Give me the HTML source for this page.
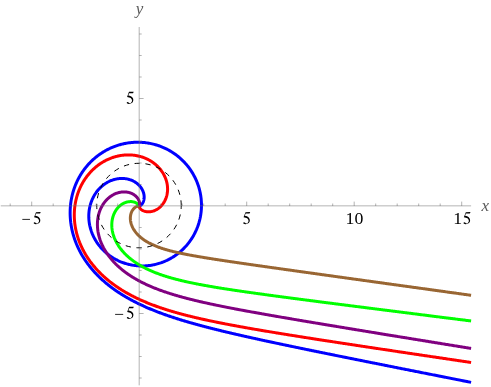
<!DOCTYPE html>
<html><head><meta charset="utf-8"><title>plot</title>
<style>
html,body{margin:0;padding:0;background:#fff;}
body{width:491px;height:387px;overflow:hidden;font-family:"Liberation Serif",serif;}
svg{display:block;}
.tl path{fill:#000;stroke:none;}
.tl{font-family:"Liberation Serif",serif;font-size:17.7px;fill:#000;}
.al{font-family:"Liberation Serif",serif;font-size:17px;font-style:italic;fill:#5a5a5a;}
.cv path{fill:none;stroke-width:3.0;stroke-linejoin:round;stroke-linecap:butt;}
</style></head><body>
<svg width="491" height="387" viewBox="0 0 491 387">
<rect width="491" height="387" fill="#fff"/>
<g class="tl" opacity="0.999">
<g transform="translate(21.4,225.3) scale(0.93,1)"><text x="0" y="0">−</text></g><path d="M7.2,0 L6.55,1.45 L2.65,1.45 L1.75,3.75 C3.6,4.0 5.4,4.9 6.3,6.3 C6.9,7.3 7.0,8.7 6.4,9.9 C5.7,11.3 4.0,12.1 2.3,12.1 C1.2,12.1 0.2,11.7 0.2,11.0 C0.2,10.5 0.6,10.2 1.1,10.2 C1.9,10.2 2.3,11.35 3.4,11.35 C4.6,11.35 5.55,10.1 5.55,8.7 C5.55,6.7 3.6,5.5 0.55,5.2 L2.5,0.05 Z" transform="translate(33.5,212.1)"/>
<path d="M7.2,0 L6.55,1.45 L2.65,1.45 L1.75,3.75 C3.6,4.0 5.4,4.9 6.3,6.3 C6.9,7.3 7.0,8.7 6.4,9.9 C5.7,11.3 4.0,12.1 2.3,12.1 C1.2,12.1 0.2,11.7 0.2,11.0 C0.2,10.5 0.6,10.2 1.1,10.2 C1.9,10.2 2.3,11.35 3.4,11.35 C4.6,11.35 5.55,10.1 5.55,8.7 C5.55,6.7 3.6,5.5 0.55,5.2 L2.5,0.05 Z" transform="translate(243.0,212.1)"/>
<g transform="translate(354.5,224.0) scale(1.005,1)"><text x="0" y="0" text-anchor="middle">10</text></g>
<g transform="translate(453.2,224.0) scale(1.005,1)"><text x="0" y="0">1</text></g><path d="M7.2,0 L6.55,1.45 L2.65,1.45 L1.75,3.75 C3.6,4.0 5.4,4.9 6.3,6.3 C6.9,7.3 7.0,8.7 6.4,9.9 C5.7,11.3 4.0,12.1 2.3,12.1 C1.2,12.1 0.2,11.7 0.2,11.0 C0.2,10.5 0.6,10.2 1.1,10.2 C1.9,10.2 2.3,11.35 3.4,11.35 C4.6,11.35 5.55,10.1 5.55,8.7 C5.55,6.7 3.6,5.5 0.55,5.2 L2.5,0.05 Z" transform="translate(463.3,212.1)"/>
<path d="M7.2,0 L6.55,1.45 L2.65,1.45 L1.75,3.75 C3.6,4.0 5.4,4.9 6.3,6.3 C6.9,7.3 7.0,8.7 6.4,9.9 C5.7,11.3 4.0,12.1 2.3,12.1 C1.2,12.1 0.2,11.7 0.2,11.0 C0.2,10.5 0.6,10.2 1.1,10.2 C1.9,10.2 2.3,11.35 3.4,11.35 C4.6,11.35 5.55,10.1 5.55,8.7 C5.55,6.7 3.6,5.5 0.55,5.2 L2.5,0.05 Z" transform="translate(126.5,91.8)"/>
<g transform="translate(114.3,319.5) scale(0.98,1)"><text x="0" y="0">−</text></g><path d="M7.2,0 L6.55,1.45 L2.65,1.45 L1.75,3.75 C3.6,4.0 5.4,4.9 6.3,6.3 C6.9,7.3 7.0,8.7 6.4,9.9 C5.7,11.3 4.0,12.1 2.3,12.1 C1.2,12.1 0.2,11.7 0.2,11.0 C0.2,10.5 0.6,10.2 1.1,10.2 C1.9,10.2 2.3,11.35 3.4,11.35 C4.6,11.35 5.55,10.1 5.55,8.7 C5.55,6.7 3.6,5.5 0.55,5.2 L2.5,0.05 Z" transform="translate(126.6,306.8)"/>
</g>
<g class="al" opacity="0.999">
<text x="481.4" y="210.5">x</text>
<text x="135.8" y="14.2">y</text>
</g>

<g class="cv">
<path d="M471.10,382.35 L469.94,382.12 L469.25,381.99 L468.57,381.85 L467.89,381.72 L467.21,381.58 L466.54,381.45 L465.86,381.32 L465.19,381.18 L464.52,381.05 L463.86,380.92 L463.19,380.79 L462.53,380.66 L461.87,380.53 L461.21,380.40 L460.56,380.27 L459.90,380.14 L459.25,380.01 L458.60,379.88 L457.96,379.76 L457.31,379.63 L456.67,379.50 L456.03,379.37 L455.39,379.25 L454.75,379.12 L454.12,379.00 L453.49,378.87 L452.86,378.75 L452.23,378.62 L451.60,378.50 L450.98,378.38 L450.35,378.25 L449.73,378.13 L449.12,378.01 L448.50,377.89 L447.89,377.77 L447.27,377.64 L446.66,377.52 L446.06,377.40 L445.45,377.28 L444.84,377.16 L444.24,377.05 L443.64,376.93 L443.04,376.81 L442.45,376.69 L441.85,376.57 L441.26,376.46 L440.67,376.34 L440.08,376.22 L438.90,375.99 L437.74,375.76 L436.58,375.53 L435.43,375.30 L434.28,375.07 L433.14,374.85 L432.01,374.63 L430.89,374.40 L429.77,374.18 L428.66,373.96 L427.56,373.74 L426.46,373.53 L425.37,373.31 L424.29,373.10 L423.21,372.88 L422.14,372.67 L421.07,372.46 L420.01,372.25 L418.96,372.04 L417.91,371.83 L416.87,371.63 L415.84,371.42 L414.81,371.22 L413.79,371.01 L412.77,370.81 L411.76,370.61 L410.76,370.41 L409.76,370.21 L408.76,370.02 L407.77,369.82 L406.79,369.63 L405.81,369.43 L404.84,369.24 L403.87,369.05 L402.91,368.86 L401.96,368.67 L401.01,368.48 L400.06,368.29 L399.12,368.10 L398.19,367.92 L397.26,367.73 L396.33,367.55 L395.41,367.36 L394.49,367.18 L393.58,367.00 L392.68,366.82 L391.78,366.64 L390.88,366.46 L389.99,366.29 L389.10,366.11 L388.22,365.93 L387.34,365.76 L386.47,365.58 L385.60,365.41 L384.74,365.24 L383.88,365.07 L383.03,364.90 L382.18,364.73 L381.33,364.56 L380.49,364.39 L379.65,364.22 L378.82,364.06 L377.99,363.89 L377.16,363.73 L376.34,363.56 L375.52,363.40 L374.71,363.24 L373.90,363.08 L373.10,362.92 L372.30,362.76 L371.50,362.60 L370.71,362.44 L369.92,362.28 L369.13,362.12 L368.35,361.97 L367.57,361.81 L366.80,361.66 L366.03,361.50 L365.26,361.35 L364.50,361.20 L363.74,361.04 L362.98,360.89 L362.23,360.74 L361.48,360.59 L360.74,360.44 L360.00,360.29 L359.26,360.15 L358.52,360.00 L357.79,359.85 L357.06,359.71 L356.34,359.56 L355.62,359.42 L354.90,359.27 L354.18,359.13 L353.47,358.99 L352.76,358.84 L352.06,358.70 L351.36,358.56 L350.66,358.42 L349.96,358.28 L349.27,358.14 L348.58,358.00 L347.89,357.86 L347.21,357.73 L346.53,357.59 L345.85,357.45 L345.18,357.32 L344.51,357.18 L343.84,357.05 L343.17,356.91 L342.51,356.78 L341.85,356.65 L341.19,356.51 L340.54,356.38 L339.89,356.25 L339.24,356.12 L338.60,355.99 L337.95,355.86 L337.31,355.73 L336.67,355.60 L336.04,355.47 L335.41,355.35 L334.78,355.22 L334.15,355.09 L333.53,354.96 L332.90,354.84 L332.28,354.71 L331.67,354.59 L331.05,354.46 L330.44,354.34 L329.83,354.22 L329.23,354.09 L328.62,353.97 L328.02,353.85 L327.42,353.73 L326.82,353.61 L326.23,353.48 L325.64,353.36 L325.05,353.24 L324.17,353.07 L323.29,352.89 L322.42,352.71 L321.56,352.53 L320.70,352.36 L319.84,352.18 L318.99,352.01 L318.15,351.84 L317.31,351.67 L316.47,351.50 L315.64,351.33 L314.82,351.16 L314.00,350.99 L313.18,350.82 L312.37,350.66 L311.56,350.49 L310.76,350.33 L309.96,350.16 L309.17,350.00 L308.38,349.84 L307.59,349.68 L306.81,349.52 L306.03,349.36 L305.26,349.20 L304.49,349.04 L303.73,348.88 L302.97,348.72 L302.21,348.57 L301.46,348.41 L300.71,348.26 L299.97,348.11 L299.23,347.95 L298.49,347.80 L297.76,347.65 L297.03,347.50 L296.30,347.35 L295.58,347.20 L294.86,347.05 L294.15,346.90 L293.44,346.75 L292.73,346.60 L292.03,346.46 L291.33,346.31 L290.63,346.17 L289.94,346.02 L289.25,345.88 L288.56,345.73 L287.88,345.59 L287.20,345.45 L286.52,345.31 L285.85,345.17 L285.18,345.03 L284.52,344.89 L283.85,344.75 L283.19,344.61 L282.53,344.47 L281.88,344.33 L281.23,344.19 L280.58,344.06 L279.94,343.92 L279.29,343.79 L278.66,343.65 L278.02,343.52 L277.39,343.38 L276.76,343.25 L276.13,343.12 L275.50,342.98 L274.88,342.85 L274.26,342.72 L273.65,342.59 L273.03,342.46 L272.42,342.33 L271.81,342.20 L271.21,342.07 L270.61,341.94 L270.01,341.81 L269.41,341.68 L268.81,341.55 L268.22,341.43 L267.63,341.30 L267.04,341.17 L266.26,341.01 L265.49,340.84 L264.72,340.67 L263.95,340.51 L263.19,340.34 L262.43,340.18 L261.68,340.01 L260.93,339.85 L260.18,339.69 L259.44,339.53 L258.70,339.37 L257.97,339.21 L257.24,339.05 L256.51,338.89 L255.79,338.73 L255.07,338.57 L254.36,338.41 L253.65,338.26 L252.94,338.10 L252.24,337.95 L251.54,337.79 L250.84,337.64 L250.15,337.48 L249.46,337.33 L248.77,337.18 L248.09,337.02 L247.41,336.87 L246.73,336.72 L246.06,336.57 L245.39,336.42 L244.72,336.27 L244.06,336.12 L243.40,335.97 L242.74,335.82 L242.09,335.67 L241.44,335.53 L240.79,335.38 L240.14,335.23 L239.50,335.08 L238.86,334.94 L238.23,334.79 L237.59,334.65 L236.96,334.50 L236.33,334.36 L235.71,334.21 L235.09,334.07 L234.47,333.93 L233.85,333.78 L233.24,333.64 L232.63,333.50 L232.02,333.36 L231.41,333.21 L230.81,333.07 L230.21,332.93 L229.61,332.79 L229.01,332.65 L228.42,332.51 L227.83,332.37 L227.24,332.23 L226.65,332.09 L226.07,331.95 L225.34,331.78 L224.62,331.61 L223.90,331.43 L223.18,331.26 L222.47,331.09 L221.76,330.92 L221.06,330.75 L220.35,330.57 L219.65,330.40 L218.96,330.23 L218.27,330.06 L217.58,329.89 L216.89,329.72 L216.21,329.56 L215.53,329.39 L214.85,329.22 L214.18,329.05 L213.51,328.88 L212.84,328.71 L212.17,328.55 L211.51,328.38 L210.85,328.21 L210.20,328.04 L209.54,327.88 L208.89,327.71 L208.25,327.54 L207.60,327.38 L206.96,327.21 L206.32,327.04 L205.68,326.88 L205.04,326.71 L204.41,326.55 L203.78,326.38 L203.16,326.21 L202.53,326.05 L201.91,325.88 L201.29,325.72 L200.67,325.55 L200.05,325.39 L199.44,325.22 L198.83,325.06 L198.22,324.89 L197.62,324.72 L197.01,324.56 L196.41,324.39 L195.81,324.23 L195.21,324.06 L194.62,323.90 L194.02,323.73 L193.43,323.57 L192.84,323.40 L192.25,323.23 L191.67,323.07 L191.08,322.90 L190.50,322.74 L189.92,322.57 L189.34,322.40 L188.65,322.20 L187.96,322.00 L187.28,321.80 L186.60,321.60 L185.92,321.40 L185.24,321.20 L184.56,321.00 L183.89,320.80 L183.22,320.59 L182.55,320.39 L181.88,320.19 L181.22,319.98 L180.56,319.78 L179.90,319.58 L179.24,319.37 L178.58,319.17 L177.93,318.96 L177.28,318.76 L176.63,318.55 L175.99,318.34 L175.34,318.14 L174.70,317.93 L174.06,317.72 L173.42,317.51 L172.78,317.30 L172.15,317.09 L171.51,316.88 L170.88,316.67 L170.25,316.46 L169.62,316.25 L169.00,316.03 L168.37,315.82 L167.75,315.61 L167.13,315.39 L166.51,315.17 L165.89,314.96 L165.28,314.74 L164.66,314.52 L164.05,314.30 L163.44,314.08 L162.83,313.86 L162.22,313.64 L161.61,313.42 L161.00,313.19 L160.40,312.97 L159.80,312.74 L159.19,312.52 L158.59,312.29 L157.99,312.06 L157.40,311.83 L156.80,311.60 L156.20,311.37 L155.61,311.14 L155.02,310.91 L154.43,310.67 L153.84,310.44 L153.25,310.20 L152.66,309.96 L152.07,309.72 L151.48,309.48 L150.90,309.24 L150.32,309.00 L149.73,308.75 L149.15,308.51 L148.57,308.26 L147.99,308.01 L147.41,307.76 L146.83,307.51 L146.26,307.26 L145.68,307.01 L145.11,306.75 L144.53,306.50 L143.96,306.24 L143.39,305.98 L142.82,305.72 L142.24,305.45 L141.67,305.19 L141.11,304.92 L140.54,304.66 L139.97,304.39 L139.40,304.12 L138.84,303.84 L138.27,303.57 L137.71,303.29 L137.14,303.01 L136.58,302.73 L136.02,302.45 L135.46,302.17 L134.90,301.88 L134.34,301.60 L133.78,301.31 L133.22,301.02 L132.66,300.72 L132.10,300.43 L131.54,300.13 L130.99,299.83 L130.43,299.53 L129.88,299.22 L129.32,298.92 L128.77,298.61 L128.21,298.30 L127.66,297.98 L127.11,297.67 L126.56,297.35 L126.00,297.03 L125.45,296.70 L124.90,296.38 L124.35,296.05 L123.80,295.72 L123.25,295.39 L122.71,295.05 L122.16,294.71 L121.61,294.37 L121.06,294.02 L120.52,293.68 L119.97,293.33 L119.43,292.97 L118.88,292.62 L118.34,292.26 L117.79,291.89 L117.25,291.53 L116.70,291.16 L116.16,290.79 L115.62,290.41 L115.08,290.03 L114.54,289.65 L114.00,289.27 L113.46,288.88 L112.92,288.49 L112.38,288.09 L111.84,287.69 L111.30,287.29 L110.76,286.88 L110.23,286.47 L109.69,286.05 L109.15,285.63 L108.62,285.21 L108.08,284.78 L107.55,284.35 L107.01,283.92 L106.48,283.48 L105.95,283.03 L105.42,282.58 L104.89,282.13 L104.36,281.67 L103.83,281.21 L103.30,280.74 L102.77,280.27 L102.24,279.79 L101.71,279.31 L101.19,278.82 L100.66,278.33 L100.22,277.92 L99.79,277.50 L99.35,277.08 L98.92,276.65 L98.48,276.22 L98.05,275.79 L97.62,275.35 L97.18,274.91 L96.75,274.47 L96.32,274.02 L95.89,273.57 L95.46,273.11 L95.03,272.65 L94.61,272.18 L94.18,271.71 L93.75,271.23 L93.33,270.75 L92.91,270.27 L92.48,269.78 L92.06,269.28 L91.64,268.79 L91.22,268.28 L90.80,267.77 L90.39,267.26 L89.97,266.74 L89.56,266.22 L89.14,265.69 L88.73,265.15 L88.32,264.61 L87.91,264.06 L87.51,263.51 L87.10,262.95 L86.70,262.39 L86.29,261.82 L85.89,261.25 L85.50,260.66 L85.10,260.08 L84.71,259.48 L84.31,258.88 L83.92,258.27 L83.53,257.66 L83.15,257.04 L82.77,256.41 L82.38,255.78 L82.01,255.14 L81.63,254.49 L81.33,253.97 L81.04,253.44 L80.74,252.90 L80.45,252.36 L80.16,251.82 L79.87,251.27 L79.58,250.72 L79.30,250.16 L79.01,249.60 L78.73,249.03 L78.46,248.45 L78.18,247.87 L77.91,247.29 L77.64,246.70 L77.37,246.10 L77.11,245.50 L76.84,244.89 L76.58,244.28 L76.33,243.65 L76.08,243.03 L75.83,242.40 L75.58,241.76 L75.34,241.11 L75.10,240.46 L74.86,239.80 L74.63,239.14 L74.40,238.47 L74.18,237.79 L73.96,237.11 L73.74,236.41 L73.53,235.71 L73.32,235.01 L73.12,234.30 L72.92,233.57 L72.73,232.85 L72.54,232.11 L72.36,231.37 L72.18,230.62 L72.01,229.86 L71.85,229.09 L71.69,228.31 L71.54,227.53 L71.43,226.94 L71.32,226.34 L71.22,225.73 L71.12,225.13 L71.02,224.51 L70.93,223.89 L70.85,223.27 L70.76,222.64 L70.69,222.01 L70.61,221.37 L70.54,220.73 L70.48,220.08 L70.42,219.42 L70.37,218.76 L70.32,218.10 L70.28,217.43 L70.24,216.75 L70.21,216.07 L70.18,215.38 L70.16,214.69 L70.15,213.99 L70.14,213.28 L70.14,212.57 L70.15,211.85 L70.16,211.13 L70.18,210.40 L70.20,209.66 L70.24,208.92 L70.28,208.17 L70.33,207.41 L70.39,206.65 L70.45,205.88 L70.53,205.11 L70.61,204.33 L70.70,203.54 L70.81,202.74 L70.92,201.94 L71.04,201.13 L71.17,200.32 L71.31,199.50 L71.47,198.67 L71.63,197.83 L71.81,196.99 L72.00,196.14 L72.20,195.28 L72.41,194.42 L72.64,193.54 L72.79,192.96 L72.96,192.37 L73.13,191.78 L73.31,191.19 L73.49,190.59 L73.68,189.99 L73.88,189.38 L74.08,188.77 L74.29,188.16 L74.51,187.55 L74.74,186.93 L74.97,186.31 L75.21,185.69 L75.46,185.06 L75.72,184.43 L75.99,183.80 L76.26,183.17 L76.54,182.53 L76.84,181.89 L77.14,181.24 L77.45,180.59 L77.77,179.94 L78.10,179.29 L78.44,178.63 L78.79,177.97 L79.15,177.31 L79.52,176.65 L79.91,175.98 L80.30,175.31 L80.71,174.64 L81.13,173.96 L81.56,173.29 L82.00,172.61 L82.45,171.93 L82.92,171.24 L83.40,170.56 L83.90,169.87 L84.41,169.18 L84.94,168.49 L85.47,167.80 L86.03,167.11 L86.60,166.42 L87.19,165.72 L87.79,165.03 L88.41,164.33 L89.05,163.63 L89.70,162.94 L90.38,162.24 L91.07,161.55 L91.78,160.86 L92.51,160.16 L93.26,159.47 L94.04,158.79 L94.83,158.10 L95.65,157.42 L96.49,156.74 L97.35,156.06 L98.24,155.39 L99.15,154.72 L100.08,154.06 L101.05,153.41 L102.04,152.76 L103.05,152.12 L103.57,151.80 L104.10,151.48 L104.63,151.17 L105.17,150.86 L105.72,150.55 L106.27,150.25 L106.84,149.95 L107.41,149.65 L107.99,149.35 L108.57,149.06 L109.17,148.77 L109.77,148.48 L110.38,148.20 L111.00,147.92 L111.63,147.64 L112.26,147.37 L112.91,147.10 L113.56,146.84 L114.22,146.58 L114.89,146.33 L115.57,146.08 L116.26,145.84 L116.96,145.60 L117.67,145.37 L118.39,145.14 L119.11,144.92 L119.85,144.71 L120.60,144.50 L121.35,144.30 L122.12,144.11 L122.90,143.93 L123.68,143.75 L124.48,143.58 L125.28,143.42 L126.10,143.27 L126.93,143.12 L127.77,142.99 L128.61,142.86 L129.47,142.75 L130.34,142.64 L131.22,142.55 L132.11,142.47 L133.02,142.40 L133.93,142.34 L134.85,142.29 L135.79,142.26 L136.73,142.24 L137.69,142.23 L138.65,142.24 L139.63,142.26 L140.62,142.29 L141.61,142.35 L142.62,142.42 L143.64,142.50 L144.67,142.61 L145.70,142.73 L146.75,142.87 L147.81,143.02 L148.88,143.20 L149.95,143.40 L151.03,143.62 L152.13,143.86 L153.23,144.12 L154.33,144.41 L155.45,144.71 L156.57,145.04 L157.70,145.40 L158.83,145.78 L159.97,146.19 L161.11,146.62 L162.25,147.08 L163.40,147.56 L164.55,148.08 L165.70,148.62 L166.85,149.19 L168.00,149.79 L169.15,150.42 L170.30,151.07 L171.44,151.76 L172.58,152.48 L173.71,153.23 L174.84,154.01 L175.95,154.81 L177.06,155.65 L178.15,156.52 L179.24,157.42 L180.31,158.35 L181.36,159.31 L182.40,160.30 L183.42,161.31 L184.43,162.36 L185.41,163.43 L186.37,164.52 L187.31,165.64 L188.22,166.79 L189.11,167.96 L189.98,169.15 L190.81,170.37 L191.62,171.60 L192.40,172.85 L193.15,174.12 L193.86,175.40 L194.55,176.70 L195.20,178.01 L195.83,179.33 L196.42,180.66 L196.97,182.00 L197.49,183.35 L197.98,184.70 L198.44,186.06 L198.86,187.41 L199.25,188.77 L199.61,190.13 L199.93,191.48 L200.22,192.83 L200.48,194.18 L200.71,195.52 L200.90,196.86 L201.07,198.18 L201.21,199.50 L201.31,200.81 L201.39,202.10 L201.44,203.39 L201.47,204.66 L201.47,205.92 L201.44,207.17 L201.39,208.40 L201.32,209.62 L201.22,210.82 L201.10,212.00 L200.96,213.17 L200.80,214.33 L200.62,215.46 L200.43,216.59 L200.21,217.69 L199.98,218.78 L199.73,219.84 L199.46,220.90 L199.18,221.93 L198.89,222.95 L198.58,223.95 L198.26,224.93 L197.92,225.90 L197.58,226.85 L197.22,227.78 L196.85,228.69 L196.48,229.59 L196.09,230.47 L195.69,231.33 L195.29,232.18 L194.88,233.01 L194.46,233.83 L194.03,234.63 L193.60,235.41 L193.16,236.18 L192.72,236.93 L192.27,237.67 L191.81,238.39 L191.35,239.10 L190.89,239.79 L190.42,240.47 L189.94,241.14 L189.47,241.79 L188.99,242.43 L188.51,243.05 L188.02,243.67 L187.54,244.27 L187.05,244.85 L186.56,245.43 L186.06,245.99 L185.57,246.54 L185.07,247.07 L184.58,247.60 L184.08,248.12 L183.58,248.62 L183.08,249.11 L182.58,249.59 L182.08,250.06 L181.58,250.52 L181.08,250.97 L180.58,251.41 L180.08,251.85 L179.58,252.27 L179.08,252.68 L178.59,253.08 L178.09,253.47 L177.59,253.86 L177.09,254.23 L176.60,254.60 L176.10,254.95 L175.61,255.30 L174.63,255.98 L173.65,256.62 L172.68,257.23 L171.71,257.81 L170.75,258.37 L169.79,258.90 L168.85,259.40 L167.91,259.87 L166.98,260.33 L166.05,260.75 L165.14,261.16 L164.23,261.54 L163.33,261.91 L162.44,262.25 L161.56,262.57 L160.68,262.88 L159.82,263.16 L158.96,263.43 L158.11,263.68 L157.27,263.92 L156.44,264.14 L155.62,264.34 L154.80,264.54 L154.00,264.71 L153.20,264.87 L152.42,265.02 L151.64,265.16 L150.87,265.29 L150.11,265.40 L149.35,265.50 L148.61,265.59 L147.87,265.67 L147.15,265.74 L146.43,265.80 L145.72,265.85 L145.01,265.89 L144.32,265.92 L143.63,265.94 L142.95,265.96 L142.28,265.96 L141.62,265.96 L140.96,265.95 L140.31,265.94 L139.67,265.92 L139.04,265.89 L138.41,265.85 L137.80,265.81 L137.18,265.76 L136.58,265.70 L135.69,265.61 L134.81,265.50 L133.95,265.38 L133.10,265.26 L132.27,265.12 L131.46,264.97 L130.65,264.81 L129.87,264.64 L129.09,264.46 L128.33,264.28 L127.58,264.09 L126.85,263.89 L126.13,263.68 L125.42,263.46 L124.72,263.24 L124.04,263.02 L123.37,262.79 L122.71,262.55 L122.06,262.31 L121.42,262.06 L120.79,261.81 L120.18,261.55 L119.57,261.29 L118.98,261.02 L118.40,260.76 L117.82,260.48 L117.26,260.21 L116.71,259.93 L116.16,259.65 L115.63,259.37 L114.93,258.98 L114.25,258.60 L113.58,258.21 L112.93,257.81 L112.29,257.41 L111.67,257.01 L111.06,256.61 L110.47,256.20 L109.89,255.80 L109.33,255.39 L108.77,254.97 L108.23,254.56 L107.70,254.15 L107.19,253.73 L106.68,253.32 L106.19,252.90 L105.71,252.48 L105.24,252.06 L104.78,251.64 L104.33,251.23 L103.89,250.81 L103.36,250.28 L102.84,249.76 L102.34,249.24 L101.85,248.72 L101.38,248.20 L100.92,247.68 L100.47,247.16 L100.04,246.64 L99.61,246.13 L99.21,245.62 L98.81,245.10 L98.42,244.60 L98.05,244.09 L97.69,243.58 L97.34,243.08 L96.99,242.58 L96.60,241.98 L96.22,241.39 L95.85,240.79 L95.50,240.21 L95.15,239.62 L94.83,239.05 L94.51,238.47 L94.21,237.90 L93.91,237.33 L93.63,236.77 L93.36,236.21 L93.10,235.65 L92.86,235.10 L92.58,234.47 L92.31,233.84 L92.06,233.21 L91.82,232.59 L91.59,231.98 L91.38,231.37 L91.17,230.77 L90.98,230.17 L90.79,229.59 L90.62,229.00 L90.46,228.42 L90.28,227.77 L90.12,227.13 L89.97,226.49 L89.83,225.86 L89.69,225.24 L89.57,224.62 L89.46,224.01 L89.36,223.41 L89.26,222.75 L89.17,222.09 L89.09,221.44 L89.02,220.80 L88.96,220.17 L88.91,219.55 L88.87,218.94 L88.84,218.34 L88.81,217.68 L88.80,217.02 L88.79,216.38 L88.79,215.75 L88.80,215.13 L88.82,214.52 L88.85,213.92 L88.89,213.27 L88.94,212.63 L89.00,212.01 L89.06,211.39 L89.13,210.78 L89.21,210.19 L89.31,209.55 L89.41,208.92 L89.52,208.31 L89.64,207.71 L89.76,207.12 L89.90,206.49 L90.05,205.88 L90.21,205.28 L90.37,204.69 L90.54,204.11 L90.72,203.50 L90.92,202.91 L91.11,202.33 L91.32,201.76 L91.54,201.16 L91.77,200.58 L92.00,200.01 L92.24,199.46 L92.50,198.88 L92.76,198.32 L93.02,197.77 L93.31,197.20 L93.60,196.65 L93.89,196.12 L94.19,195.59 L94.51,195.05 L94.83,194.53 L95.15,194.02 L95.49,193.50 L95.84,192.99 L96.18,192.50 L96.55,192.00 L96.91,191.52 L97.30,191.02 L97.68,190.55 L98.07,190.08 L98.48,189.62 L98.88,189.16 L99.30,188.71 L99.72,188.27 L100.16,187.83 L100.60,187.40 L101.05,186.98 L101.50,186.57 L101.97,186.16 L102.43,185.77 L102.91,185.38 L103.39,185.01 L103.87,184.64 L104.38,184.28 L104.87,183.93 L105.38,183.59 L105.89,183.26 L106.40,182.94 L106.93,182.63 L107.47,182.32 L107.99,182.03 L108.53,181.75 L109.08,181.48 L109.63,181.22 L110.19,180.97 L110.75,180.73 L111.30,180.51 L111.87,180.29 L112.43,180.09 L113.00,179.89 L113.58,179.71 L114.16,179.54 L114.75,179.38 L115.34,179.24 L115.93,179.10 L116.52,178.98 L117.11,178.87 L117.71,178.77 L118.31,178.69 L118.92,178.62 L119.52,178.56 L120.12,178.51 L120.72,178.48 L121.32,178.46 L121.93,178.45 L122.54,178.46 L123.14,178.48 L123.75,178.51 L124.35,178.56 L124.95,178.62 L125.55,178.70 L126.15,178.79 L126.74,178.89 L127.33,179.01 L127.92,179.14 L128.51,179.29 L129.09,179.45 L129.67,179.62 L130.24,179.81 L130.81,180.01 L131.37,180.22 L131.93,180.46 L132.48,180.70 L133.02,180.96 L133.56,181.23 L134.09,181.52 L134.61,181.82 L135.12,182.13 L135.63,182.46 L136.12,182.80 L136.61,183.15 L137.08,183.52 L137.55,183.91 L138.00,184.30 L138.45,184.71 L138.88,185.13 L139.29,185.56 L139.70,186.00 L140.09,186.46 L140.47,186.93 L140.83,187.41 L141.17,187.90 L141.50,188.40 L141.87,189.01 L142.19,189.58 L142.48,190.15 L142.74,190.70 L143.01,191.33 L143.24,191.94 L143.44,192.53 L143.63,193.19 L143.79,193.82 L143.92,194.42 L144.02,195.07 L144.10,195.70 L144.15,196.35 L144.17,196.98 L144.16,197.62 L144.13,198.22 L144.06,198.84 L143.97,199.45 L143.84,200.06 L143.69,200.66 L143.51,201.24 L143.29,201.82 L143.04,202.39 L142.76,202.93 L142.44,203.45 L142.08,203.96 L141.69,204.44 L141.27,204.88 L140.82,205.28 L140.33,205.63 L139.80,205.92 L139.24,206.13 L138.99,206.17" stroke="#0000ff"/>
<path d="M471.10,362.47 L470.33,362.36 L469.67,362.26 L469.01,362.16 L468.36,362.07 L467.71,361.97 L467.06,361.87 L466.41,361.78 L465.76,361.68 L465.12,361.59 L464.47,361.49 L463.83,361.40 L463.19,361.30 L462.56,361.21 L461.92,361.11 L461.29,361.02 L460.66,360.93 L460.04,360.83 L459.41,360.74 L458.79,360.65 L458.16,360.56 L457.54,360.46 L456.93,360.37 L456.31,360.28 L455.70,360.19 L455.08,360.10 L454.47,360.01 L453.87,359.92 L453.26,359.83 L452.66,359.74 L452.05,359.65 L451.45,359.56 L450.85,359.47 L450.26,359.38 L449.66,359.30 L448.48,359.12 L447.30,358.95 L446.13,358.77 L444.97,358.60 L443.82,358.43 L442.67,358.26 L441.53,358.09 L440.39,357.92 L439.27,357.75 L438.15,357.59 L437.03,357.42 L435.93,357.26 L434.83,357.09 L433.73,356.93 L432.65,356.77 L431.57,356.61 L430.49,356.45 L429.42,356.29 L428.36,356.13 L427.31,355.98 L426.26,355.82 L425.21,355.67 L424.18,355.51 L423.15,355.36 L422.12,355.21 L421.10,355.05 L420.09,354.90 L419.08,354.75 L418.08,354.60 L417.08,354.46 L416.09,354.31 L415.11,354.16 L414.13,354.02 L413.15,353.87 L412.18,353.73 L411.22,353.58 L410.26,353.44 L409.31,353.30 L408.36,353.16 L407.42,353.01 L406.48,352.88 L405.55,352.74 L404.62,352.60 L403.70,352.46 L402.78,352.32 L401.87,352.19 L400.96,352.05 L400.06,351.92 L399.16,351.78 L398.26,351.65 L397.38,351.52 L396.49,351.38 L395.61,351.25 L394.74,351.12 L393.87,350.99 L393.00,350.86 L392.14,350.73 L391.28,350.60 L390.43,350.48 L389.58,350.35 L388.74,350.22 L387.90,350.10 L387.06,349.97 L386.23,349.85 L385.41,349.72 L384.58,349.60 L383.76,349.48 L382.95,349.36 L382.14,349.23 L381.33,349.11 L380.53,348.99 L379.73,348.87 L378.94,348.75 L378.15,348.63 L377.36,348.52 L376.58,348.40 L375.80,348.28 L375.02,348.16 L374.25,348.05 L373.48,347.93 L372.72,347.82 L371.96,347.70 L371.20,347.59 L370.45,347.48 L369.69,347.36 L368.95,347.25 L368.21,347.14 L367.47,347.03 L366.73,346.92 L366.00,346.80 L365.27,346.69 L364.54,346.59 L363.82,346.48 L363.10,346.37 L362.38,346.26 L361.67,346.15 L360.96,346.04 L360.26,345.94 L359.55,345.83 L358.85,345.73 L358.16,345.62 L357.46,345.52 L356.77,345.41 L356.08,345.31 L355.40,345.20 L354.72,345.10 L354.04,345.00 L353.36,344.89 L352.69,344.79 L352.02,344.69 L351.36,344.59 L350.69,344.49 L350.03,344.39 L349.37,344.29 L348.72,344.19 L348.07,344.09 L347.42,343.99 L346.77,343.89 L346.13,343.79 L345.48,343.70 L344.85,343.60 L344.21,343.50 L343.58,343.41 L342.95,343.31 L342.32,343.21 L341.69,343.12 L341.07,343.02 L340.45,342.93 L339.83,342.84 L339.22,342.74 L338.61,342.65 L338.00,342.55 L337.39,342.46 L336.78,342.37 L336.18,342.28 L335.58,342.19 L334.98,342.09 L334.39,342.00 L333.50,341.87 L332.62,341.73 L331.74,341.60 L330.87,341.46 L330.00,341.33 L329.14,341.20 L328.28,341.07 L327.43,340.93 L326.58,340.80 L325.74,340.67 L324.90,340.54 L324.07,340.42 L323.24,340.29 L322.42,340.16 L321.60,340.03 L320.79,339.91 L319.98,339.78 L319.17,339.66 L318.37,339.53 L317.58,339.41 L316.79,339.29 L316.00,339.17 L315.22,339.04 L314.44,338.92 L313.66,338.80 L312.89,338.68 L312.13,338.56 L311.37,338.45 L310.61,338.33 L309.86,338.21 L309.11,338.09 L308.36,337.98 L307.62,337.86 L306.88,337.74 L306.15,337.63 L305.42,337.51 L304.69,337.40 L303.97,337.29 L303.25,337.17 L302.53,337.06 L301.82,336.95 L301.11,336.84 L300.41,336.73 L299.71,336.61 L299.01,336.50 L298.32,336.39 L297.63,336.29 L296.94,336.18 L296.26,336.07 L295.58,335.96 L294.90,335.85 L294.23,335.75 L293.56,335.64 L292.89,335.53 L292.23,335.43 L291.56,335.32 L290.91,335.22 L290.25,335.11 L289.60,335.01 L288.95,334.90 L288.31,334.80 L287.67,334.70 L287.03,334.59 L286.39,334.49 L285.76,334.39 L285.13,334.29 L284.50,334.19 L283.87,334.09 L283.25,333.98 L282.63,333.88 L282.02,333.78 L281.40,333.68 L280.79,333.59 L280.18,333.49 L279.58,333.39 L278.98,333.29 L278.38,333.19 L277.78,333.09 L277.18,333.00 L276.59,332.90 L275.81,332.77 L275.03,332.64 L274.25,332.52 L273.48,332.39 L272.71,332.26 L271.94,332.14 L271.19,332.01 L270.43,331.89 L269.68,331.76 L268.93,331.64 L268.19,331.51 L267.45,331.39 L266.72,331.27 L265.99,331.15 L265.26,331.02 L264.54,330.90 L263.82,330.78 L263.10,330.66 L262.39,330.54 L261.68,330.42 L260.98,330.30 L260.28,330.18 L259.58,330.06 L258.89,329.95 L258.20,329.83 L257.51,329.71 L256.83,329.59 L256.15,329.48 L255.47,329.36 L254.80,329.25 L254.13,329.13 L253.46,329.01 L252.80,328.90 L252.14,328.79 L251.48,328.67 L250.83,328.56 L250.18,328.44 L249.53,328.33 L248.89,328.22 L248.25,328.10 L247.61,327.99 L246.97,327.88 L246.34,327.77 L245.71,327.66 L245.08,327.55 L244.46,327.43 L243.84,327.32 L243.22,327.21 L242.60,327.10 L241.99,326.99 L241.38,326.88 L240.77,326.77 L240.17,326.66 L239.57,326.55 L238.97,326.45 L238.37,326.34 L237.78,326.23 L237.18,326.12 L236.45,325.98 L235.71,325.85 L234.99,325.72 L234.26,325.58 L233.54,325.45 L232.82,325.31 L232.11,325.18 L231.40,325.05 L230.69,324.91 L229.99,324.78 L229.29,324.65 L228.59,324.52 L227.90,324.38 L227.21,324.25 L226.52,324.12 L225.84,323.99 L225.16,323.86 L224.48,323.73 L223.81,323.59 L223.14,323.46 L222.47,323.33 L221.80,323.20 L221.14,323.07 L220.48,322.94 L219.83,322.81 L219.17,322.68 L218.52,322.55 L217.88,322.42 L217.23,322.29 L216.59,322.16 L215.95,322.03 L215.32,321.90 L214.68,321.77 L214.05,321.64 L213.42,321.51 L212.80,321.38 L212.18,321.25 L211.55,321.12 L210.94,320.99 L210.32,320.86 L209.71,320.73 L209.10,320.60 L208.49,320.47 L207.88,320.35 L207.28,320.22 L206.68,320.09 L206.08,319.96 L205.48,319.83 L204.89,319.70 L204.29,319.57 L203.70,319.44 L203.11,319.31 L202.53,319.18 L201.83,319.02 L201.13,318.86 L200.44,318.71 L199.74,318.55 L199.05,318.39 L198.37,318.23 L197.69,318.08 L197.00,317.92 L196.33,317.76 L195.65,317.60 L194.98,317.44 L194.31,317.28 L193.64,317.13 L192.98,316.97 L192.31,316.81 L191.65,316.65 L191.00,316.49 L190.34,316.32 L189.69,316.16 L189.04,316.00 L188.39,315.84 L187.74,315.68 L187.10,315.51 L186.46,315.35 L185.82,315.19 L185.18,315.02 L184.55,314.86 L183.91,314.69 L183.28,314.53 L182.65,314.36 L182.03,314.20 L181.40,314.03 L180.78,313.86 L180.16,313.69 L179.54,313.53 L178.92,313.36 L178.31,313.19 L177.69,313.02 L177.08,312.85 L176.47,312.67 L175.86,312.50 L175.26,312.33 L174.65,312.16 L174.05,311.98 L173.45,311.81 L172.85,311.63 L172.25,311.45 L171.65,311.28 L171.06,311.10 L170.46,310.92 L169.87,310.74 L169.28,310.56 L168.69,310.38 L168.10,310.20 L167.52,310.02 L166.93,309.83 L166.35,309.65 L165.76,309.46 L165.18,309.28 L164.60,309.09 L164.03,308.90 L163.45,308.72 L162.87,308.53 L162.30,308.34 L161.73,308.14 L161.15,307.95 L160.58,307.76 L160.01,307.56 L159.44,307.37 L158.88,307.17 L158.22,306.94 L157.56,306.71 L156.90,306.47 L156.24,306.24 L155.59,306.00 L154.94,305.76 L154.29,305.52 L153.64,305.28 L152.99,305.04 L152.34,304.80 L151.69,304.55 L151.05,304.30 L150.40,304.05 L149.76,303.80 L149.12,303.54 L148.48,303.29 L147.84,303.03 L147.20,302.77 L146.57,302.51 L145.93,302.25 L145.30,301.98 L144.66,301.71 L144.03,301.45 L143.40,301.17 L142.77,300.90 L142.14,300.62 L141.51,300.35 L140.89,300.07 L140.26,299.78 L139.63,299.50 L139.01,299.21 L138.39,298.92 L137.77,298.63 L137.14,298.33 L136.52,298.04 L135.90,297.74 L135.29,297.44 L134.67,297.13 L134.05,296.82 L133.44,296.51 L132.82,296.20 L132.21,295.88 L131.59,295.57 L130.98,295.24 L130.37,294.92 L129.76,294.59 L129.15,294.26 L128.54,293.93 L127.93,293.59 L127.32,293.25 L126.72,292.91 L126.11,292.57 L125.51,292.22 L124.90,291.86 L124.38,291.56 L123.87,291.25 L123.35,290.94 L122.84,290.63 L122.32,290.32 L121.81,290.00 L121.29,289.68 L120.78,289.35 L120.27,289.03 L119.76,288.70 L119.25,288.37 L118.74,288.04 L118.23,287.70 L117.72,287.36 L117.21,287.02 L116.70,286.67 L116.20,286.32 L115.69,285.97 L115.18,285.61 L114.68,285.26 L114.18,284.90 L113.67,284.53 L113.17,284.16 L112.67,283.79 L112.17,283.42 L111.67,283.04 L111.17,282.66 L110.67,282.27 L110.17,281.89 L109.68,281.49 L109.18,281.10 L108.69,280.70 L108.19,280.30 L107.70,279.89 L107.21,279.48 L106.72,279.07 L106.23,278.65 L105.74,278.23 L105.25,277.80 L104.77,277.38 L104.28,276.94 L103.80,276.50 L103.31,276.06 L102.83,275.62 L102.35,275.17 L101.87,274.71 L101.40,274.26 L100.92,273.79 L100.45,273.33 L99.97,272.85 L99.50,272.38 L99.03,271.90 L98.56,271.41 L98.10,270.92 L97.63,270.43 L97.17,269.93 L96.71,269.42 L96.25,268.91 L95.79,268.40 L95.34,267.88 L94.88,267.36 L94.43,266.83 L93.98,266.30 L93.54,265.76 L93.09,265.21 L92.65,264.66 L92.21,264.11 L91.77,263.55 L91.34,262.98 L90.91,262.41 L90.48,261.83 L90.12,261.35 L89.77,260.86 L89.42,260.37 L89.07,259.87 L88.72,259.37 L88.38,258.87 L88.04,258.36 L87.70,257.85 L87.36,257.33 L87.02,256.81 L86.69,256.29 L86.36,255.76 L86.03,255.23 L85.71,254.69 L85.39,254.15 L85.07,253.61 L84.75,253.06 L84.44,252.50 L84.13,251.95 L83.82,251.39 L83.52,250.82 L83.22,250.25 L82.92,249.68 L82.63,249.10 L82.34,248.51 L82.05,247.93 L81.77,247.34 L81.49,246.74 L81.21,246.14 L80.94,245.54 L80.67,244.93 L80.41,244.32 L80.15,243.70 L79.90,243.08 L79.64,242.45 L79.40,241.82 L79.16,241.19 L78.92,240.55 L78.69,239.91 L78.46,239.26 L78.24,238.61 L78.02,237.96 L77.81,237.30 L77.60,236.64 L77.40,235.97 L77.20,235.30 L77.01,234.63 L76.82,233.95 L76.64,233.27 L76.47,232.59 L76.30,231.90 L76.14,231.21 L75.98,230.51 L75.83,229.81 L75.69,229.11 L75.55,228.40 L75.42,227.69 L75.30,226.98 L75.18,226.27 L75.07,225.55 L74.97,224.83 L74.87,224.10 L74.78,223.38 L74.70,222.65 L74.62,221.92 L74.55,221.18 L74.49,220.45 L74.44,219.71 L74.40,218.97 L74.36,218.23 L74.33,217.49 L74.31,216.74 L74.29,216.00 L74.29,215.25 L74.29,214.50 L74.30,213.75 L74.32,213.00 L74.34,212.40 L74.36,211.80 L74.39,211.20 L74.43,210.60 L74.47,210.00 L74.52,209.40 L74.57,208.80 L74.63,208.20 L74.69,207.60 L74.76,207.00 L74.83,206.40 L74.91,205.81 L74.99,205.21 L75.08,204.61 L75.18,204.02 L75.28,203.42 L75.38,202.83 L75.50,202.24 L75.61,201.65 L75.73,201.06 L75.86,200.47 L75.99,199.89 L76.13,199.30 L76.31,198.57 L76.50,197.85 L76.69,197.13 L76.90,196.41 L77.11,195.70 L77.33,194.99 L77.56,194.28 L77.79,193.58 L78.03,192.88 L78.29,192.19 L78.54,191.50 L78.81,190.81 L79.08,190.14 L79.36,189.46 L79.65,188.79 L79.94,188.13 L80.24,187.47 L80.55,186.82 L80.86,186.18 L81.18,185.54 L81.50,184.91 L81.83,184.28 L82.17,183.66 L82.51,183.04 L82.86,182.44 L83.22,181.84 L83.58,181.24 L83.94,180.66 L84.31,180.08 L84.69,179.50 L85.06,178.94 L85.45,178.38 L85.84,177.83 L86.23,177.28 L86.62,176.75 L87.02,176.22 L87.43,175.70 L87.83,175.18 L88.24,174.68 L88.66,174.18 L89.07,173.69 L89.49,173.20 L89.92,172.73 L90.34,172.26 L90.77,171.80 L91.20,171.34 L91.63,170.90 L92.06,170.46 L92.50,170.03 L92.94,169.61 L93.38,169.19 L93.82,168.78 L94.35,168.30 L94.88,167.83 L95.41,167.37 L95.95,166.92 L96.48,166.49 L97.02,166.06 L97.56,165.64 L98.10,165.23 L98.64,164.84 L99.17,164.45 L99.71,164.07 L100.25,163.70 L100.79,163.34 L101.33,163.00 L101.86,162.66 L102.40,162.33 L102.93,162.01 L103.47,161.69 L104.00,161.39 L104.53,161.10 L105.06,160.81 L105.68,160.49 L106.29,160.18 L106.90,159.88 L107.51,159.59 L108.11,159.31 L108.72,159.05 L109.32,158.79 L109.91,158.54 L110.51,158.31 L111.10,158.08 L111.68,157.86 L112.27,157.66 L112.84,157.46 L113.42,157.27 L114.07,157.06 L114.72,156.87 L115.36,156.68 L116.00,156.51 L116.63,156.35 L117.26,156.20 L117.88,156.05 L118.50,155.92 L119.11,155.80 L119.71,155.68 L120.31,155.57 L120.90,155.48 L121.56,155.38 L122.21,155.29 L122.86,155.21 L123.50,155.14 L124.13,155.08 L124.75,155.03 L125.37,154.98 L125.98,154.95 L126.58,154.92 L127.24,154.90 L127.89,154.89 L128.53,154.89 L129.17,154.90 L129.79,154.92 L130.41,154.94 L131.02,154.97 L131.62,155.01 L132.26,155.06 L132.90,155.12 L133.53,155.19 L134.15,155.27 L134.76,155.35 L135.36,155.44 L136.00,155.54 L136.63,155.66 L137.26,155.78 L137.86,155.91 L138.46,156.04 L139.05,156.18 L139.68,156.34 L140.29,156.51 L140.89,156.68 L141.48,156.86 L142.06,157.04 L142.67,157.24 L143.26,157.45 L143.84,157.67 L144.42,157.89 L144.98,158.11 L145.56,158.36 L146.13,158.61 L146.69,158.86 L147.24,159.12 L147.81,159.40 L148.36,159.68 L148.90,159.97 L149.43,160.26 L149.98,160.57 L150.51,160.89 L151.03,161.20 L151.56,161.54 L152.08,161.88 L152.58,162.23 L153.10,162.59 L153.60,162.96 L154.09,163.32 L154.58,163.71 L155.06,164.10 L155.53,164.48 L156.00,164.89 L156.46,165.30 L156.90,165.71 L157.35,166.13 L157.78,166.56 L158.22,167.00 L158.64,167.44 L159.06,167.90 L159.47,168.36 L159.87,168.83 L160.26,169.30 L160.65,169.79 L161.02,170.27 L161.39,170.77 L161.74,171.26 L162.09,171.77 L162.43,172.28 L162.75,172.79 L163.08,173.32 L163.38,173.84 L163.68,174.37 L163.98,174.92 L164.25,175.46 L164.52,176.00 L164.78,176.56 L165.03,177.12 L165.27,177.67 L165.49,178.24 L165.71,178.80 L165.92,179.38 L166.11,179.96 L166.29,180.54 L166.46,181.13 L166.62,181.71 L166.77,182.30 L166.91,182.90 L167.03,183.49 L167.14,184.08 L167.24,184.67 L167.32,185.28 L167.40,185.88 L167.46,186.48 L167.51,187.08 L167.54,187.68 L167.57,188.29 L167.58,188.89 L167.58,189.50 L167.56,190.10 L167.53,190.71 L167.49,191.31 L167.43,191.91 L167.36,192.50 L167.28,193.10 L167.18,193.70 L167.07,194.29 L166.95,194.89 L166.81,195.47 L166.66,196.06 L166.49,196.64 L166.31,197.22 L166.12,197.79 L165.91,198.36 L165.69,198.92 L165.46,199.48 L165.21,200.02 L164.95,200.57 L164.67,201.10 L164.38,201.63 L164.08,202.15 L163.76,202.67 L163.43,203.17 L163.08,203.66 L162.72,204.15 L162.36,204.62 L161.97,205.09 L161.58,205.54 L161.17,205.98 L160.75,206.41 L160.31,206.83 L159.87,207.24 L159.41,207.63 L158.94,208.01 L158.46,208.37 L157.97,208.72 L157.47,209.05 L156.96,209.37 L156.44,209.67 L155.88,209.97 L155.29,210.25 L154.71,210.51 L154.15,210.74 L153.51,210.97 L152.89,211.16 L152.30,211.33 L151.64,211.48 L151.00,211.60 L150.39,211.70 L149.74,211.77 L149.12,211.81 L148.46,211.82 L147.84,211.81 L147.21,211.77 L146.61,211.70 L146.00,211.60 L145.40,211.48 L144.80,211.32 L144.21,211.14 L143.65,210.93 L143.08,210.68 L142.53,210.40 L142.01,210.09 L141.50,209.75 L141.02,209.37 L140.56,208.96 L140.14,208.51 L139.77,208.03 L139.44,207.52 L139.18,206.98 L139.01,206.40 L138.98,206.18" stroke="#ff0000"/>
<path d="M471.10,295.31 L470.20,295.19 L469.09,295.03 L467.98,294.88 L466.88,294.72 L465.78,294.57 L464.70,294.42 L463.62,294.27 L462.54,294.12 L461.48,293.98 L460.42,293.83 L459.36,293.68 L458.32,293.54 L457.28,293.39 L456.24,293.25 L455.22,293.11 L454.20,292.97 L453.18,292.83 L452.17,292.69 L451.17,292.55 L450.17,292.41 L449.18,292.27 L448.20,292.14 L447.22,292.00 L446.25,291.86 L445.28,291.73 L444.32,291.60 L443.37,291.47 L442.42,291.33 L441.48,291.20 L440.54,291.07 L439.61,290.94 L438.68,290.82 L437.76,290.69 L436.84,290.56 L435.93,290.43 L435.03,290.31 L434.13,290.18 L433.23,290.06 L432.34,289.94 L431.46,289.81 L430.58,289.69 L429.70,289.57 L428.83,289.45 L427.97,289.33 L427.11,289.21 L426.25,289.09 L425.40,288.97 L424.56,288.86 L423.72,288.74 L422.88,288.62 L422.05,288.51 L421.22,288.39 L420.40,288.28 L419.58,288.17 L418.77,288.05 L417.96,287.94 L417.16,287.83 L416.36,287.72 L415.56,287.61 L414.77,287.50 L413.99,287.39 L413.20,287.28 L412.42,287.17 L411.65,287.07 L410.88,286.96 L410.11,286.85 L409.35,286.75 L408.59,286.64 L407.84,286.54 L407.09,286.43 L406.34,286.33 L405.60,286.23 L404.86,286.12 L404.13,286.02 L403.40,285.92 L402.67,285.82 L401.95,285.72 L401.23,285.62 L400.51,285.52 L399.80,285.42 L399.09,285.32 L398.39,285.23 L397.69,285.13 L396.99,285.03 L396.30,284.94 L395.61,284.84 L394.92,284.74 L394.24,284.65 L393.56,284.56 L392.88,284.46 L392.21,284.37 L391.54,284.27 L390.87,284.18 L390.21,284.09 L389.55,284.00 L388.89,283.91 L388.24,283.82 L387.59,283.73 L386.94,283.64 L386.29,283.55 L385.65,283.46 L385.02,283.37 L384.38,283.28 L383.75,283.19 L383.12,283.11 L382.49,283.02 L381.87,282.93 L381.25,282.85 L380.64,282.76 L380.02,282.68 L379.41,282.59 L378.80,282.51 L378.20,282.42 L377.59,282.34 L377.00,282.26 L376.40,282.17 L375.51,282.05 L374.63,281.93 L373.75,281.81 L372.88,281.68 L372.01,281.56 L371.15,281.44 L370.30,281.33 L369.45,281.21 L368.61,281.09 L367.77,280.98 L366.94,280.86 L366.12,280.75 L365.30,280.63 L364.48,280.52 L363.67,280.41 L362.87,280.29 L362.07,280.18 L361.28,280.07 L360.49,279.96 L359.71,279.86 L358.93,279.75 L358.16,279.64 L357.39,279.53 L356.63,279.43 L355.87,279.32 L355.12,279.22 L354.37,279.11 L353.63,279.01 L352.89,278.91 L352.16,278.81 L351.43,278.70 L350.71,278.60 L349.99,278.50 L349.27,278.40 L348.56,278.30 L347.85,278.21 L347.15,278.11 L346.45,278.01 L345.76,277.92 L345.07,277.82 L344.39,277.72 L343.71,277.63 L343.03,277.54 L342.36,277.44 L341.69,277.35 L341.02,277.26 L340.36,277.16 L339.71,277.07 L339.05,276.98 L338.40,276.89 L337.76,276.80 L337.12,276.71 L336.48,276.62 L335.85,276.54 L335.22,276.45 L334.59,276.36 L333.97,276.27 L333.35,276.19 L332.73,276.10 L332.12,276.02 L331.51,275.93 L330.91,275.85 L330.30,275.76 L329.71,275.68 L329.11,275.60 L328.32,275.49 L327.54,275.38 L326.76,275.27 L325.99,275.16 L325.23,275.06 L324.47,274.95 L323.72,274.85 L322.97,274.74 L322.23,274.64 L321.49,274.54 L320.76,274.43 L320.03,274.33 L319.31,274.23 L318.59,274.13 L317.88,274.03 L317.17,273.93 L316.47,273.84 L315.78,273.74 L315.09,273.64 L314.40,273.55 L313.72,273.45 L313.04,273.36 L312.37,273.26 L311.70,273.17 L311.04,273.08 L310.38,272.99 L309.72,272.89 L309.07,272.80 L308.43,272.71 L307.79,272.62 L307.15,272.54 L306.52,272.45 L305.89,272.36 L305.27,272.27 L304.65,272.18 L304.03,272.10 L303.42,272.01 L302.81,271.93 L302.21,271.84 L301.61,271.76 L301.01,271.68 L300.27,271.57 L299.54,271.47 L298.81,271.37 L298.09,271.27 L297.37,271.17 L296.66,271.07 L295.95,270.97 L295.25,270.87 L294.56,270.77 L293.87,270.68 L293.19,270.58 L292.51,270.49 L291.83,270.39 L291.17,270.30 L290.50,270.20 L289.85,270.11 L289.19,270.02 L288.54,269.93 L287.90,269.84 L287.26,269.75 L286.63,269.66 L286.00,269.57 L285.37,269.48 L284.75,269.40 L284.14,269.31 L283.53,269.23 L282.92,269.14 L282.32,269.06 L281.72,268.97 L281.01,268.87 L280.30,268.77 L279.60,268.67 L278.91,268.57 L278.22,268.48 L277.54,268.38 L276.86,268.29 L276.19,268.19 L275.52,268.10 L274.86,268.00 L274.21,267.91 L273.56,267.82 L272.91,267.73 L272.27,267.64 L271.64,267.55 L271.01,267.46 L270.38,267.37 L269.77,267.28 L269.15,267.20 L268.54,267.11 L267.94,267.03 L267.34,266.94 L266.74,266.86 L266.05,266.76 L265.37,266.66 L264.69,266.57 L264.02,266.47 L263.36,266.38 L262.70,266.28 L262.04,266.19 L261.40,266.10 L260.75,266.01 L260.12,265.92 L259.49,265.83 L258.86,265.74 L258.24,265.65 L257.63,265.56 L257.02,265.47 L256.41,265.39 L255.81,265.30 L255.21,265.22 L254.54,265.12 L253.87,265.03 L253.21,264.93 L252.55,264.84 L251.91,264.74 L251.26,264.65 L250.62,264.56 L249.99,264.47 L249.36,264.38 L248.74,264.29 L248.13,264.20 L247.52,264.11 L246.91,264.03 L246.31,263.94 L245.72,263.85 L245.06,263.76 L244.40,263.66 L243.75,263.57 L243.11,263.48 L242.47,263.38 L241.84,263.29 L241.21,263.20 L240.60,263.11 L239.98,263.02 L239.37,262.93 L238.77,262.85 L238.17,262.76 L237.52,262.66 L236.87,262.57 L236.22,262.47 L235.58,262.38 L234.95,262.29 L234.33,262.20 L233.71,262.10 L233.10,262.01 L232.49,261.92 L231.89,261.84 L231.29,261.75 L230.64,261.65 L230.00,261.56 L229.37,261.46 L228.74,261.37 L228.11,261.28 L227.50,261.18 L226.89,261.09 L226.28,261.00 L225.68,260.91 L225.04,260.82 L224.40,260.72 L223.77,260.63 L223.14,260.53 L222.52,260.44 L221.91,260.34 L221.30,260.25 L220.70,260.16 L220.11,260.07 L219.47,259.97 L218.84,259.88 L218.22,259.78 L217.60,259.69 L216.99,259.59 L216.39,259.50 L215.79,259.41 L215.15,259.31 L214.52,259.21 L213.90,259.11 L213.28,259.02 L212.68,258.92 L212.07,258.83 L211.48,258.73 L210.85,258.63 L210.22,258.53 L209.60,258.44 L208.99,258.34 L208.39,258.24 L207.79,258.15 L207.16,258.04 L206.54,257.94 L205.93,257.84 L205.32,257.75 L204.72,257.65 L204.12,257.55 L203.50,257.45 L202.88,257.34 L202.27,257.24 L201.66,257.14 L201.07,257.04 L200.44,256.94 L199.83,256.83 L199.22,256.73 L198.62,256.63 L198.02,256.52 L197.40,256.42 L196.79,256.31 L196.18,256.20 L195.58,256.10 L194.99,255.99 L194.38,255.89 L193.77,255.78 L193.17,255.67 L192.57,255.56 L191.96,255.45 L191.35,255.34 L190.75,255.23 L190.16,255.12 L189.54,255.00 L188.94,254.89 L188.34,254.78 L187.75,254.66 L187.14,254.55 L186.54,254.43 L185.94,254.31 L185.33,254.19 L184.73,254.07 L184.13,253.95 L183.54,253.83 L182.93,253.71 L182.34,253.58 L181.75,253.46 L181.14,253.33 L180.54,253.21 L179.95,253.08 L179.35,252.95 L178.75,252.82 L178.16,252.69 L177.56,252.56 L176.97,252.42 L176.38,252.29 L175.78,252.15 L175.19,252.01 L174.59,251.87 L174.00,251.73 L173.41,251.58 L172.82,251.44 L172.23,251.29 L171.63,251.14 L171.04,250.99 L170.44,250.83 L169.85,250.68 L169.27,250.52 L168.68,250.36 L168.10,250.20 L167.51,250.04 L166.93,249.87 L166.35,249.70 L165.77,249.53 L165.18,249.36 L164.61,249.19 L164.03,249.01 L163.44,248.82 L162.86,248.64 L162.28,248.45 L161.71,248.26 L161.13,248.07 L160.55,247.87 L159.98,247.67 L159.40,247.47 L158.83,247.26 L158.26,247.05 L157.69,246.84 L157.12,246.62 L156.56,246.40 L156.00,246.18 L155.44,245.95 L154.88,245.71 L154.32,245.47 L153.76,245.23 L153.21,244.99 L152.66,244.74 L152.12,244.49 L151.57,244.23 L151.03,243.97 L150.49,243.70 L149.95,243.42 L149.41,243.14 L148.87,242.86 L148.34,242.57 L147.82,242.27 L147.29,241.97 L146.77,241.67 L146.25,241.36 L145.74,241.04 L145.23,240.71 L144.73,240.38 L144.22,240.05 L143.73,239.71 L143.24,239.36 L142.75,239.00 L142.27,238.64 L141.79,238.28 L141.32,237.90 L140.85,237.52 L140.39,237.13 L139.94,236.73 L139.49,236.33 L139.04,235.92 L138.61,235.50 L138.18,235.08 L137.76,234.65 L137.35,234.21 L136.94,233.76 L136.55,233.31 L136.16,232.85 L135.78,232.38 L135.41,231.90 L135.05,231.42 L134.70,230.93 L134.36,230.44 L134.03,229.93 L133.71,229.42 L133.40,228.90 L133.11,228.38 L132.83,227.84 L132.56,227.31 L132.30,226.76 L132.06,226.21 L131.83,225.65 L131.62,225.09 L131.42,224.52 L131.24,223.95 L131.07,223.38 L130.92,222.79 L130.78,222.21 L130.67,221.62 L130.57,221.02 L130.48,220.39 L130.42,219.78 L130.37,219.10 L130.35,218.45 L130.36,217.82 L130.38,217.22 L130.43,216.56 L130.50,215.94 L130.61,215.28 L130.73,214.65 L130.88,214.07 L131.05,213.46 L131.26,212.83 L131.48,212.26 L131.74,211.68 L132.02,211.11 L132.33,210.56 L132.67,210.02 L133.03,209.52 L133.42,209.03 L133.83,208.57 L134.25,208.15 L134.71,207.75 L135.19,207.38 L135.69,207.04 L136.22,206.75 L136.77,206.50 L137.34,206.30 L137.93,206.17 L138.53,206.12 L138.97,206.17" stroke="#996633"/>
<path d="M471.10,320.96 L470.10,320.84 L468.92,320.69 L467.75,320.54 L466.58,320.40 L465.42,320.25 L464.27,320.10 L463.12,319.96 L461.98,319.82 L460.85,319.68 L459.73,319.53 L458.61,319.39 L457.50,319.25 L456.40,319.12 L455.31,318.98 L454.22,318.84 L453.14,318.71 L452.06,318.57 L450.99,318.44 L449.93,318.30 L448.88,318.17 L447.83,318.04 L446.78,317.91 L445.75,317.78 L444.72,317.65 L443.69,317.52 L442.68,317.39 L441.66,317.26 L440.66,317.14 L439.66,317.01 L438.67,316.88 L437.68,316.76 L436.70,316.64 L435.72,316.51 L434.75,316.39 L433.78,316.27 L432.82,316.15 L431.87,316.03 L430.92,315.91 L429.98,315.79 L429.04,315.67 L428.11,315.56 L427.18,315.44 L426.26,315.32 L425.35,315.21 L424.44,315.09 L423.53,314.98 L422.63,314.87 L421.73,314.75 L420.84,314.64 L419.96,314.53 L419.08,314.42 L418.20,314.31 L417.33,314.20 L416.46,314.09 L415.60,313.98 L414.75,313.87 L413.89,313.76 L413.05,313.66 L412.20,313.55 L411.36,313.45 L410.53,313.34 L409.70,313.24 L408.88,313.13 L408.06,313.03 L407.24,312.92 L406.43,312.82 L405.62,312.72 L404.82,312.62 L404.02,312.52 L403.22,312.42 L402.43,312.32 L401.65,312.22 L400.86,312.12 L400.08,312.02 L399.31,311.92 L398.54,311.83 L397.77,311.73 L397.01,311.63 L396.25,311.54 L395.50,311.44 L394.75,311.35 L394.00,311.25 L393.26,311.16 L392.52,311.07 L391.78,310.97 L391.05,310.88 L390.32,310.79 L389.59,310.70 L388.87,310.61 L388.16,310.51 L387.44,310.42 L386.73,310.33 L386.02,310.25 L385.32,310.16 L384.62,310.07 L383.92,309.98 L383.23,309.89 L382.54,309.80 L381.85,309.72 L381.17,309.63 L380.49,309.54 L379.81,309.46 L379.14,309.37 L378.47,309.29 L377.80,309.20 L377.14,309.12 L376.48,309.04 L375.82,308.95 L375.16,308.87 L374.51,308.79 L373.86,308.71 L373.22,308.62 L372.57,308.54 L371.94,308.46 L371.30,308.38 L370.66,308.30 L370.03,308.22 L369.41,308.14 L368.78,308.06 L368.16,307.98 L367.54,307.90 L366.92,307.83 L366.31,307.75 L365.70,307.67 L365.09,307.59 L364.49,307.52 L363.88,307.44 L363.28,307.36 L362.69,307.29 L361.79,307.17 L360.91,307.06 L360.03,306.95 L359.16,306.84 L358.29,306.73 L357.43,306.62 L356.57,306.51 L355.72,306.40 L354.87,306.30 L354.03,306.19 L353.20,306.08 L352.37,305.98 L351.55,305.87 L350.73,305.77 L349.91,305.66 L349.11,305.56 L348.30,305.46 L347.51,305.36 L346.71,305.26 L345.92,305.16 L345.14,305.06 L344.36,304.96 L343.59,304.86 L342.82,304.76 L342.05,304.66 L341.30,304.56 L340.54,304.47 L339.79,304.37 L339.04,304.28 L338.30,304.18 L337.57,304.09 L336.83,303.99 L336.10,303.90 L335.38,303.81 L334.66,303.72 L333.94,303.62 L333.23,303.53 L332.53,303.44 L331.82,303.35 L331.12,303.26 L330.43,303.17 L329.74,303.09 L329.05,303.00 L328.37,302.91 L327.69,302.82 L327.01,302.74 L326.34,302.65 L325.67,302.56 L325.01,302.48 L324.35,302.39 L323.69,302.31 L323.04,302.23 L322.39,302.14 L321.74,302.06 L321.10,301.98 L320.46,301.89 L319.83,301.81 L319.20,301.73 L318.57,301.65 L317.94,301.57 L317.32,301.49 L316.70,301.41 L316.09,301.33 L315.48,301.25 L314.87,301.17 L314.26,301.09 L313.66,301.02 L313.06,300.94 L312.47,300.86 L311.68,300.76 L310.89,300.66 L310.11,300.56 L309.34,300.46 L308.57,300.36 L307.81,300.26 L307.05,300.16 L306.30,300.06 L305.55,299.97 L304.81,299.87 L304.07,299.77 L303.34,299.68 L302.61,299.58 L301.89,299.49 L301.17,299.39 L300.46,299.30 L299.75,299.21 L299.05,299.12 L298.35,299.03 L297.65,298.94 L296.96,298.84 L296.28,298.76 L295.59,298.67 L294.92,298.58 L294.24,298.49 L293.58,298.40 L292.91,298.31 L292.25,298.23 L291.59,298.14 L290.94,298.05 L290.29,297.97 L289.65,297.88 L289.01,297.80 L288.37,297.72 L287.74,297.63 L287.11,297.55 L286.48,297.47 L285.86,297.38 L285.24,297.30 L284.63,297.22 L284.02,297.14 L283.41,297.06 L282.81,296.98 L282.21,296.90 L281.61,296.82 L280.87,296.72 L280.14,296.62 L279.41,296.53 L278.68,296.43 L277.96,296.33 L277.25,296.24 L276.54,296.14 L275.83,296.05 L275.13,295.96 L274.44,295.86 L273.75,295.77 L273.06,295.68 L272.38,295.59 L271.71,295.49 L271.03,295.40 L270.37,295.31 L269.71,295.22 L269.05,295.14 L268.39,295.05 L267.74,294.96 L267.10,294.87 L266.46,294.78 L265.82,294.70 L265.19,294.61 L264.56,294.52 L263.94,294.44 L263.32,294.35 L262.70,294.27 L262.09,294.19 L261.48,294.10 L260.87,294.02 L260.27,293.94 L259.67,293.85 L258.96,293.76 L258.26,293.66 L257.55,293.56 L256.86,293.46 L256.17,293.37 L255.48,293.27 L254.80,293.18 L254.12,293.08 L253.45,292.99 L252.78,292.89 L252.12,292.80 L251.46,292.71 L250.81,292.62 L250.16,292.53 L249.52,292.43 L248.88,292.34 L248.24,292.25 L247.61,292.16 L246.98,292.07 L246.36,291.99 L245.74,291.90 L245.13,291.81 L244.52,291.72 L243.91,291.63 L243.31,291.55 L242.71,291.46 L242.12,291.37 L241.43,291.27 L240.74,291.18 L240.07,291.08 L239.39,290.98 L238.72,290.88 L238.06,290.78 L237.40,290.68 L236.75,290.59 L236.10,290.49 L235.45,290.40 L234.81,290.30 L234.18,290.21 L233.54,290.11 L232.92,290.02 L232.29,289.92 L231.68,289.83 L231.06,289.74 L230.45,289.64 L229.85,289.55 L229.24,289.46 L228.65,289.37 L228.05,289.28 L227.38,289.17 L226.71,289.07 L226.05,288.97 L225.39,288.86 L224.73,288.76 L224.08,288.66 L223.44,288.56 L222.80,288.46 L222.16,288.36 L221.53,288.26 L220.91,288.16 L220.28,288.06 L219.67,287.96 L219.05,287.86 L218.44,287.76 L217.84,287.66 L217.24,287.56 L216.64,287.46 L216.05,287.36 L215.39,287.25 L214.73,287.15 L214.08,287.04 L213.43,286.93 L212.79,286.82 L212.15,286.71 L211.51,286.60 L210.88,286.49 L210.26,286.39 L209.64,286.28 L209.02,286.17 L208.41,286.07 L207.81,285.96 L207.20,285.85 L206.60,285.75 L206.01,285.64 L205.42,285.53 L204.77,285.42 L204.12,285.30 L203.48,285.18 L202.84,285.06 L202.21,284.95 L201.58,284.83 L200.95,284.71 L200.33,284.60 L199.72,284.48 L199.11,284.36 L198.50,284.25 L197.90,284.13 L197.30,284.01 L196.70,283.90 L196.11,283.78 L195.47,283.65 L194.83,283.52 L194.19,283.40 L193.56,283.27 L192.94,283.14 L192.31,283.01 L191.70,282.88 L191.08,282.76 L190.47,282.63 L189.87,282.50 L189.27,282.37 L188.67,282.24 L188.08,282.11 L187.49,281.99 L186.86,281.85 L186.22,281.70 L185.59,281.56 L184.97,281.42 L184.35,281.28 L183.74,281.14 L183.13,281.00 L182.52,280.85 L181.92,280.71 L181.32,280.57 L180.73,280.43 L180.14,280.28 L179.55,280.14 L178.92,279.98 L178.30,279.83 L177.67,279.67 L177.06,279.51 L176.45,279.35 L175.84,279.20 L175.23,279.04 L174.64,278.88 L174.04,278.72 L173.45,278.56 L172.86,278.40 L172.28,278.24 L171.70,278.07 L171.08,277.90 L170.47,277.72 L169.86,277.55 L169.25,277.37 L168.65,277.19 L168.06,277.01 L167.46,276.83 L166.88,276.65 L166.29,276.47 L165.71,276.29 L165.14,276.11 L164.53,275.91 L163.92,275.72 L163.32,275.52 L162.72,275.32 L162.12,275.12 L161.53,274.92 L160.95,274.72 L160.37,274.51 L159.79,274.31 L159.22,274.11 L158.66,273.90 L158.06,273.68 L157.46,273.46 L156.87,273.24 L156.28,273.01 L155.70,272.79 L155.13,272.56 L154.56,272.33 L153.99,272.11 L153.43,271.88 L152.87,271.65 L152.28,271.40 L151.70,271.15 L151.12,270.90 L150.55,270.65 L149.98,270.40 L149.42,270.15 L148.86,269.89 L148.31,269.64 L147.77,269.38 L147.22,269.12 L146.66,268.85 L146.09,268.57 L145.54,268.30 L144.98,268.02 L144.44,267.74 L143.90,267.46 L143.36,267.17 L142.83,266.89 L142.28,266.59 L141.73,266.28 L141.19,265.98 L140.66,265.68 L140.13,265.37 L139.61,265.06 L139.09,264.75 L138.55,264.43 L138.02,264.10 L137.50,263.77 L136.98,263.44 L136.47,263.11 L135.96,262.77 L135.44,262.42 L134.93,262.07 L134.42,261.72 L133.92,261.36 L133.42,261.01 L132.94,260.65 L132.43,260.28 L131.94,259.91 L131.45,259.53 L130.97,259.16 L130.50,258.78 L130.02,258.38 L129.54,257.99 L129.07,257.59 L128.61,257.20 L128.16,256.80 L127.70,256.39 L127.24,255.98 L126.80,255.56 L126.36,255.15 L125.92,254.72 L125.48,254.29 L125.05,253.86 L124.62,253.41 L124.19,252.97 L123.78,252.52 L123.37,252.08 L122.96,251.62 L122.56,251.16 L122.17,250.70 L121.78,250.23 L121.39,249.75 L121.02,249.28 L120.64,248.80 L120.27,248.32 L119.91,247.82 L119.55,247.33 L119.20,246.83 L118.86,246.33 L118.52,245.83 L118.19,245.31 L117.87,244.80 L117.55,244.28 L117.24,243.76 L116.94,243.23 L116.64,242.70 L116.35,242.16 L116.07,241.63 L115.80,241.09 L115.53,240.54 L115.28,239.99 L115.02,239.44 L114.78,238.88 L114.55,238.32 L114.32,237.76 L114.11,237.19 L113.90,236.62 L113.70,236.04 L113.51,235.46 L113.33,234.89 L113.16,234.31 L112.99,233.72 L112.84,233.14 L112.70,232.55 L112.57,231.96 L112.45,231.37 L112.33,230.78 L112.23,230.18 L112.14,229.58 L112.06,228.98 L111.99,228.38 L111.93,227.78 L111.88,227.18 L111.85,226.57 L111.82,225.97 L111.81,225.37 L111.80,224.76 L111.81,224.15 L111.84,223.55 L111.87,222.95 L111.91,222.35 L111.97,221.75 L112.04,221.15 L112.12,220.55 L112.22,219.96 L112.33,219.36 L112.45,218.77 L112.58,218.19 L112.73,217.60 L112.89,217.02 L113.06,216.44 L113.25,215.87 L113.45,215.30 L113.66,214.73 L113.89,214.18 L114.13,213.63 L114.38,213.08 L114.64,212.54 L114.92,212.01 L115.22,211.48 L115.52,210.96 L115.84,210.45 L116.17,209.95 L116.52,209.46 L116.88,208.98 L117.25,208.50 L117.64,208.04 L118.04,207.59 L118.45,207.15 L118.87,206.72 L119.31,206.31 L119.75,205.91 L120.21,205.52 L120.69,205.15 L121.17,204.79 L121.75,204.39 L122.30,204.04 L122.84,203.72 L123.38,203.43 L123.98,203.13 L124.57,202.86 L125.15,202.63 L125.78,202.40 L126.40,202.20 L126.99,202.04 L127.63,201.89 L128.24,201.78 L128.89,201.69 L129.51,201.63 L130.14,201.59 L130.75,201.59 L131.36,201.61 L131.98,201.67 L132.59,201.75 L133.19,201.86 L133.78,202.01 L134.37,202.18 L134.95,202.40 L135.51,202.64 L136.05,202.92 L136.58,203.24 L137.08,203.59 L137.54,203.98 L137.98,204.41 L138.36,204.88 L138.69,205.39 L138.93,205.94 L138.98,206.16" stroke="#00ff00"/>
<path d="M471.10,348.43 L470.44,348.32 L469.81,348.22 L469.18,348.12 L468.55,348.02 L467.93,347.92 L467.31,347.82 L466.69,347.72 L466.07,347.62 L465.46,347.52 L464.85,347.42 L464.23,347.32 L463.63,347.22 L463.02,347.12 L462.41,347.02 L461.81,346.92 L461.21,346.83 L460.61,346.73 L460.01,346.63 L459.42,346.54 L458.82,346.44 L457.64,346.25 L456.47,346.06 L455.30,345.87 L454.15,345.68 L452.99,345.49 L451.85,345.31 L450.71,345.12 L449.58,344.94 L448.46,344.76 L447.35,344.58 L446.24,344.40 L445.14,344.22 L444.04,344.04 L442.95,343.86 L441.87,343.69 L440.80,343.51 L439.73,343.34 L438.66,343.17 L437.61,343.00 L436.56,342.82 L435.52,342.66 L434.48,342.49 L433.45,342.32 L432.42,342.15 L431.41,341.99 L430.39,341.82 L429.39,341.66 L428.39,341.50 L427.39,341.33 L426.40,341.17 L425.42,341.01 L424.44,340.85 L423.47,340.70 L422.50,340.54 L421.54,340.38 L420.59,340.23 L419.64,340.07 L418.69,339.92 L417.75,339.77 L416.82,339.61 L415.89,339.46 L414.97,339.31 L414.05,339.16 L413.13,339.01 L412.23,338.87 L411.32,338.72 L410.42,338.57 L409.53,338.43 L408.64,338.28 L407.76,338.14 L406.88,338.00 L406.01,337.85 L405.14,337.71 L404.27,337.57 L403.41,337.43 L402.56,337.29 L401.71,337.15 L400.86,337.01 L400.02,336.88 L399.18,336.74 L398.35,336.61 L397.52,336.47 L396.69,336.34 L395.87,336.20 L395.06,336.07 L394.25,335.94 L393.44,335.80 L392.64,335.67 L391.84,335.54 L391.04,335.41 L390.25,335.28 L389.47,335.16 L388.68,335.03 L387.90,334.90 L387.13,334.77 L386.36,334.65 L385.59,334.52 L384.83,334.40 L384.07,334.27 L383.31,334.15 L382.56,334.03 L381.81,333.91 L381.07,333.78 L380.33,333.66 L379.59,333.54 L378.86,333.42 L378.13,333.30 L377.40,333.18 L376.68,333.07 L375.96,332.95 L375.24,332.83 L374.53,332.71 L373.82,332.60 L373.11,332.48 L372.41,332.37 L371.71,332.25 L371.02,332.14 L370.32,332.03 L369.64,331.91 L368.95,331.80 L368.27,331.69 L367.59,331.58 L366.91,331.47 L366.24,331.36 L365.57,331.25 L364.90,331.14 L364.24,331.03 L363.58,330.92 L362.92,330.81 L362.26,330.70 L361.61,330.60 L360.96,330.49 L360.32,330.38 L359.67,330.28 L359.03,330.17 L358.40,330.07 L357.76,329.96 L357.13,329.86 L356.50,329.76 L355.88,329.65 L355.25,329.55 L354.63,329.45 L354.01,329.35 L353.40,329.25 L352.79,329.15 L352.18,329.05 L351.57,328.95 L350.97,328.85 L350.36,328.75 L349.77,328.65 L349.17,328.55 L348.58,328.45 L347.69,328.31 L346.81,328.16 L345.93,328.02 L345.07,327.87 L344.20,327.73 L343.34,327.59 L342.49,327.45 L341.64,327.31 L340.80,327.17 L339.96,327.03 L339.13,326.89 L338.31,326.76 L337.48,326.62 L336.67,326.49 L335.86,326.35 L335.05,326.22 L334.25,326.09 L333.45,325.95 L332.66,325.82 L331.87,325.69 L331.09,325.56 L330.31,325.43 L329.54,325.31 L328.77,325.18 L328.00,325.05 L327.24,324.93 L326.49,324.80 L325.73,324.67 L324.99,324.55 L324.25,324.43 L323.51,324.30 L322.77,324.18 L322.04,324.06 L321.32,323.94 L320.60,323.82 L319.88,323.70 L319.16,323.58 L318.45,323.46 L317.75,323.34 L317.05,323.23 L316.35,323.11 L315.65,322.99 L314.96,322.88 L314.28,322.76 L313.59,322.65 L312.92,322.54 L312.24,322.42 L311.57,322.31 L310.90,322.20 L310.24,322.09 L309.57,321.98 L308.92,321.87 L308.26,321.76 L307.61,321.65 L306.96,321.54 L306.32,321.43 L305.68,321.32 L305.04,321.22 L304.41,321.11 L303.78,321.00 L303.15,320.90 L302.53,320.79 L301.91,320.69 L301.29,320.58 L300.67,320.48 L300.06,320.38 L299.45,320.27 L298.85,320.17 L298.25,320.07 L297.65,319.97 L297.05,319.87 L296.46,319.77 L295.67,319.63 L294.89,319.50 L294.11,319.37 L293.34,319.24 L292.57,319.11 L291.81,318.98 L291.05,318.85 L290.30,318.72 L289.55,318.59 L288.81,318.47 L288.07,318.34 L287.34,318.22 L286.61,318.09 L285.89,317.97 L285.17,317.84 L284.45,317.72 L283.74,317.60 L283.03,317.48 L282.33,317.36 L281.63,317.24 L280.94,317.12 L280.25,317.00 L279.56,316.88 L278.88,316.76 L278.20,316.64 L277.53,316.53 L276.86,316.41 L276.19,316.30 L275.53,316.18 L274.87,316.07 L274.22,315.95 L273.57,315.84 L272.92,315.73 L272.28,315.62 L271.64,315.50 L271.00,315.39 L270.37,315.28 L269.74,315.17 L269.11,315.06 L268.49,314.95 L267.87,314.85 L267.26,314.74 L266.65,314.63 L266.04,314.52 L265.43,314.42 L264.83,314.31 L264.23,314.20 L263.63,314.10 L263.04,313.99 L262.31,313.86 L261.57,313.73 L260.85,313.60 L260.12,313.48 L259.41,313.35 L258.69,313.22 L257.99,313.09 L257.28,312.97 L256.58,312.84 L255.89,312.72 L255.20,312.59 L254.51,312.47 L253.83,312.35 L253.15,312.23 L252.48,312.10 L251.81,311.98 L251.14,311.86 L250.48,311.74 L249.82,311.62 L249.17,311.50 L248.52,311.38 L247.87,311.26 L247.23,311.15 L246.59,311.03 L245.95,310.91 L245.32,310.80 L244.69,310.68 L244.07,310.57 L243.45,310.45 L242.83,310.34 L242.22,310.22 L241.61,310.11 L241.00,309.99 L240.40,309.88 L239.80,309.77 L239.20,309.66 L238.61,309.55 L238.02,309.43 L237.31,309.30 L236.61,309.17 L235.92,309.04 L235.23,308.91 L234.54,308.77 L233.86,308.64 L233.18,308.51 L232.51,308.38 L231.84,308.26 L231.17,308.13 L230.51,308.00 L229.86,307.87 L229.20,307.74 L228.55,307.62 L227.91,307.49 L227.27,307.36 L226.63,307.24 L225.99,307.11 L225.36,306.99 L224.73,306.86 L224.11,306.74 L223.49,306.62 L222.88,306.49 L222.26,306.37 L221.65,306.25 L221.05,306.12 L220.44,306.00 L219.84,305.88 L219.25,305.76 L218.66,305.64 L218.07,305.52 L217.38,305.38 L216.70,305.24 L216.03,305.10 L215.35,304.96 L214.69,304.82 L214.02,304.68 L213.36,304.54 L212.71,304.40 L212.06,304.26 L211.41,304.12 L210.76,303.99 L210.12,303.85 L209.49,303.71 L208.85,303.57 L208.23,303.44 L207.60,303.30 L206.98,303.16 L206.36,303.03 L205.74,302.89 L205.13,302.75 L204.52,302.62 L203.92,302.48 L203.31,302.35 L202.71,302.21 L202.12,302.08 L201.53,301.94 L200.94,301.81 L200.35,301.67 L199.68,301.52 L199.02,301.36 L198.36,301.21 L197.71,301.06 L197.06,300.90 L196.41,300.75 L195.76,300.59 L195.12,300.44 L194.49,300.29 L193.85,300.13 L193.22,299.98 L192.60,299.83 L191.97,299.67 L191.35,299.52 L190.74,299.36 L190.12,299.21 L189.51,299.06 L188.91,298.90 L188.30,298.75 L187.70,298.59 L187.11,298.44 L186.51,298.28 L185.92,298.13 L185.33,297.97 L184.75,297.82 L184.16,297.66 L183.58,297.51 L182.93,297.33 L182.29,297.16 L181.65,296.98 L181.01,296.80 L180.37,296.63 L179.74,296.45 L179.11,296.27 L178.49,296.10 L177.86,295.92 L177.25,295.74 L176.63,295.56 L176.02,295.38 L175.41,295.20 L174.80,295.02 L174.20,294.84 L173.60,294.66 L173.00,294.48 L172.41,294.30 L171.81,294.11 L171.22,293.93 L170.64,293.75 L170.05,293.56 L169.47,293.38 L168.90,293.19 L168.32,293.01 L167.75,292.82 L167.12,292.61 L166.49,292.40 L165.86,292.19 L165.24,291.98 L164.62,291.77 L164.00,291.56 L163.38,291.35 L162.77,291.13 L162.16,290.92 L161.56,290.70 L160.96,290.48 L160.36,290.27 L159.76,290.05 L159.17,289.83 L158.58,289.61 L157.99,289.39 L157.41,289.16 L156.82,288.94 L156.25,288.71 L155.67,288.49 L155.09,288.26 L154.52,288.03 L153.96,287.80 L153.39,287.57 L152.83,287.34 L152.27,287.11 L151.71,286.88 L151.16,286.64 L150.60,286.41 L150.00,286.15 L149.40,285.88 L148.80,285.62 L148.20,285.35 L147.61,285.09 L147.02,284.82 L146.44,284.55 L145.86,284.28 L145.28,284.00 L144.70,283.73 L144.13,283.45 L143.56,283.17 L142.99,282.90 L142.43,282.61 L141.87,282.33 L141.31,282.05 L140.75,281.76 L140.20,281.47 L139.65,281.18 L139.11,280.89 L138.57,280.60 L138.03,280.31 L137.49,280.01 L136.96,279.71 L136.43,279.41 L135.90,279.11 L135.38,278.81 L134.86,278.51 L134.34,278.20 L133.78,277.87 L133.22,277.53 L132.67,277.19 L132.12,276.85 L131.58,276.50 L131.04,276.16 L130.50,275.81 L129.96,275.46 L129.43,275.11 L128.91,274.75 L128.39,274.40 L127.87,274.04 L127.35,273.68 L126.84,273.32 L126.34,272.96 L125.84,272.59 L125.34,272.22 L124.85,271.86 L124.36,271.49 L123.87,271.11 L123.39,270.74 L122.91,270.36 L122.44,269.98 L121.97,269.61 L121.51,269.22 L121.01,268.81 L120.52,268.39 L120.03,267.97 L119.55,267.55 L119.07,267.13 L118.60,266.71 L118.13,266.28 L117.67,265.85 L117.21,265.43 L116.76,265.00 L116.32,264.56 L115.87,264.13 L115.44,263.70 L115.01,263.26 L114.59,262.82 L114.17,262.38 L113.75,261.94 L113.35,261.50 L112.91,261.03 L112.49,260.55 L112.07,260.07 L111.65,259.59 L111.25,259.11 L110.85,258.63 L110.45,258.15 L110.06,257.67 L109.68,257.18 L109.31,256.70 L108.94,256.22 L108.58,255.73 L108.22,255.25 L107.85,254.73 L107.49,254.21 L107.13,253.69 L106.78,253.17 L106.43,252.65 L106.10,252.14 L105.77,251.62 L105.45,251.10 L105.13,250.58 L104.83,250.07 L104.51,249.52 L104.20,248.97 L103.90,248.42 L103.60,247.88 L103.32,247.33 L103.04,246.79 L102.77,246.25 L102.49,245.67 L102.22,245.10 L101.96,244.53 L101.71,243.97 L101.46,243.40 L101.23,242.84 L101.00,242.28 L100.77,241.70 L100.55,241.11 L100.33,240.53 L100.13,239.95 L99.93,239.38 L99.75,238.81 L99.56,238.21 L99.38,237.61 L99.21,237.02 L99.05,236.44 L98.90,235.86 L98.74,235.25 L98.60,234.65 L98.47,234.06 L98.35,233.47 L98.23,232.85 L98.12,232.25 L98.01,231.65 L97.92,231.05 L97.83,230.44 L97.75,229.83 L97.69,229.23 L97.62,228.61 L97.57,227.99 L97.52,227.39 L97.48,226.77 L97.46,226.15 L97.44,225.55 L97.43,224.92 L97.42,224.31 L97.43,223.71 L97.44,223.09 L97.47,222.49 L97.50,221.87 L97.54,221.26 L97.59,220.66 L97.66,220.05 L97.72,219.45 L97.80,218.84 L97.89,218.25 L97.99,217.64 L98.09,217.05 L98.21,216.45 L98.34,215.84 L98.47,215.25 L98.62,214.66 L98.77,214.07 L98.93,213.49 L99.11,212.90 L99.29,212.32 L99.48,211.75 L99.69,211.17 L99.90,210.60 L100.12,210.04 L100.35,209.48 L100.59,208.92 L100.84,208.37 L101.11,207.82 L101.38,207.27 L101.66,206.73 L101.95,206.20 L102.26,205.67 L102.57,205.15 L102.89,204.63 L103.21,204.13 L103.56,203.62 L103.91,203.12 L104.26,202.63 L104.63,202.15 L105.01,201.68 L105.40,201.21 L105.79,200.76 L106.20,200.30 L106.61,199.87 L107.03,199.43 L107.47,199.01 L107.91,198.60 L108.36,198.19 L108.82,197.80 L109.28,197.42 L109.76,197.04 L110.24,196.68 L110.73,196.33 L111.23,195.99 L111.73,195.66 L112.25,195.34 L112.77,195.04 L113.29,194.74 L113.83,194.46 L114.37,194.20 L114.91,193.94 L115.47,193.70 L116.02,193.48 L116.59,193.26 L117.16,193.07 L117.73,192.88 L118.31,192.72 L118.90,192.56 L119.48,192.42 L120.07,192.30 L120.67,192.20 L121.26,192.11 L121.86,192.04 L122.46,191.98 L123.06,191.94 L123.66,191.92 L124.26,191.92 L124.86,191.93 L125.46,191.96 L126.06,192.01 L126.65,192.08 L127.25,192.17 L127.84,192.27 L128.47,192.41 L129.10,192.57 L129.70,192.74 L130.28,192.93 L130.92,193.16 L131.52,193.41 L132.08,193.67 L132.69,193.97 L133.25,194.29 L133.77,194.61 L134.32,194.97 L134.82,195.34 L135.33,195.75 L135.80,196.16 L136.26,196.60 L136.68,197.03 L137.08,197.50 L137.46,197.98 L137.82,198.49 L138.15,199.00 L138.45,199.53 L138.72,200.08 L138.97,200.65 L139.17,201.22 L139.34,201.81 L139.47,202.41 L139.55,203.02 L139.59,203.63 L139.57,204.24 L139.50,204.84 L139.35,205.42 L139.11,205.97 L138.99,206.16" stroke="#800080"/>
</g>
<path d="M181.25,205.55 A42.25,42.25 0 1 0 96.75,205.55 A42.25,42.25 0 1 0 181.25,205.55" fill="none" stroke="#000" stroke-width="1" stroke-dasharray="5.3 5.6"/>
<g stroke="#6e6e6e" stroke-width="0.52" fill="none">
<path d="M0.75,205.85 H471.1"/>
<path d="M139.2,27.0 V385.3"/>
<path d="M10.20,206.0 v-2.5"/>
<path d="M31.70,206.0 v-4.4"/>
<path d="M53.20,206.0 v-2.5"/>
<path d="M74.70,206.0 v-2.5"/>
<path d="M96.20,206.0 v-2.5"/>
<path d="M117.70,206.0 v-2.5"/>
<path d="M160.70,206.0 v-2.5"/>
<path d="M182.20,206.0 v-2.5"/>
<path d="M203.70,206.0 v-2.5"/>
<path d="M225.20,206.0 v-2.5"/>
<path d="M246.70,206.0 v-4.4"/>
<path d="M268.20,206.0 v-2.5"/>
<path d="M289.70,206.0 v-2.5"/>
<path d="M311.20,206.0 v-2.5"/>
<path d="M332.70,206.0 v-2.5"/>
<path d="M354.20,206.0 v-4.4"/>
<path d="M375.70,206.0 v-2.5"/>
<path d="M397.20,206.0 v-2.5"/>
<path d="M418.70,206.0 v-2.5"/>
<path d="M440.20,206.0 v-2.5"/>
<path d="M461.70,206.0 v-4.4"/>
<path d="M139.2,378.00 h2.5"/>
<path d="M139.2,356.50 h2.5"/>
<path d="M139.2,335.00 h2.5"/>
<path d="M139.2,313.50 h4.4"/>
<path d="M139.2,292.00 h2.5"/>
<path d="M139.2,270.50 h2.5"/>
<path d="M139.2,249.00 h2.5"/>
<path d="M139.2,227.50 h2.5"/>
<path d="M139.2,184.50 h2.5"/>
<path d="M139.2,163.00 h2.5"/>
<path d="M139.2,141.50 h2.5"/>
<path d="M139.2,120.00 h2.5"/>
<path d="M139.2,98.50 h4.4"/>
<path d="M139.2,77.00 h2.5"/>
<path d="M139.2,55.50 h2.5"/>
<path d="M139.2,34.00 h2.5"/>
</g>
</svg>
</body></html>
